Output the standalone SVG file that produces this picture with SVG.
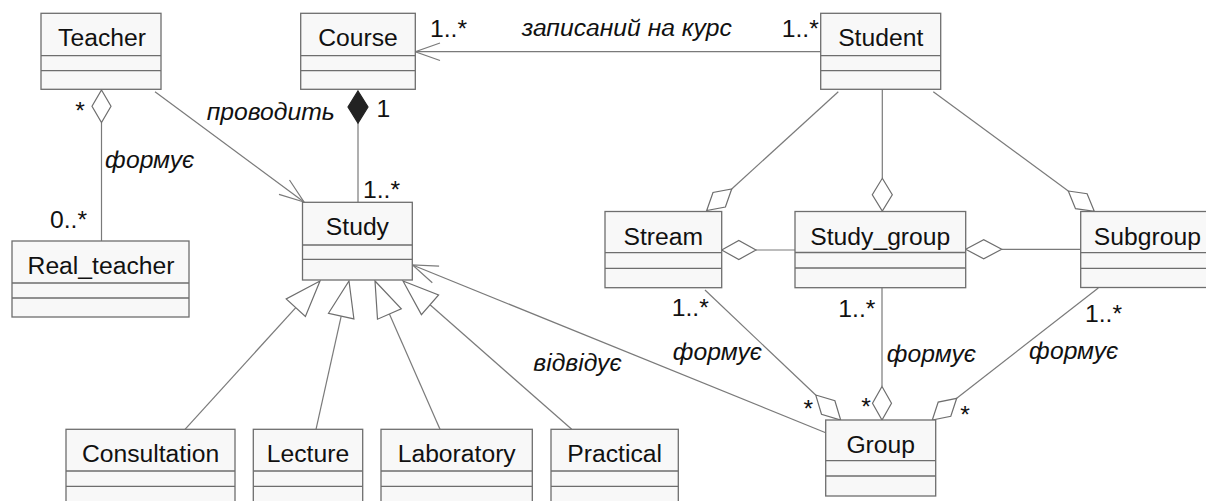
<svg xmlns="http://www.w3.org/2000/svg" width="1206" height="501" viewBox="0 0 1206 501">
  <style>
    .cls rect { fill: #f8f8f8; stroke: #6e6e6e; stroke-width: 1.3; }
    .cls line { stroke: #6e6e6e; stroke-width: 1.3; }
    .cls text { font-family: "Liberation Sans", Arial, sans-serif; font-size: 24.7px; fill: #111; text-anchor: middle; }
    .lbl { font-family: "Liberation Sans", Arial, sans-serif; font-size: 24.7px; fill: #111; }
    .it { font-style: italic; }
    .mid { text-anchor: middle; }
    #connectors line, #connectors polyline { stroke: #7a7a7a; stroke-width: 1.2; fill: none; }
    #connectors .agg { fill: #ffffff; stroke: #6e6e6e; stroke-width: 1.2; }
    #connectors .comp { fill: #222222; stroke: #222222; stroke-width: 1.2; }
    #connectors .gen { fill: #ffffff; stroke: #6e6e6e; stroke-width: 1.2; }
  </style>

  <!-- associations, aggregations, compositions, generalizations -->
  <g id="connectors">
    <!-- Teacher <>- Real_teacher -->
    <line x1="101.5" y1="122.5" x2="101.5" y2="241"/>
    <polygon class="agg" points="101.5,90 111,106.2 101.5,122.5 92,106.2"/>

    <!-- Teacher -> Study -->
    <line x1="155" y1="91.7" x2="304" y2="202"/>
    <polyline points="279,194.4 304,202 289.5,180"/>

    <!-- Course <#>- Study -->
    <line x1="358" y1="123" x2="358" y2="202.3"/>
    <polygon class="comp" points="358,91 368,107 358,123 348,107"/>

    <!-- Student -> Course -->
    <line x1="415.3" y1="51.7" x2="821" y2="51.7"/>
    <polyline points="440,43 415.3,51.7 440,60.5"/>

    <!-- Student -> Stream -->
    <line x1="838.3" y1="91.7" x2="731.7" y2="189"/>
    <polygon class="agg" points="731.7,189 725.4,207 706.7,210.5 713,192.5"/>

    <!-- Student -> Study_group -->
    <line x1="882.3" y1="89.3" x2="882.3" y2="178.3"/>
    <polygon class="agg" points="882.3,178.3 892.3,194.7 882.3,211 872.3,194.7"/>

    <!-- Student -> Subgroup -->
    <line x1="933.3" y1="91.7" x2="1068.3" y2="191"/>
    <polygon class="agg" points="1068.3,191 1087.1,193.7 1094.3,211.3 1075.5,208.7"/>

    <!-- Stream <>- Study_group -->
    <line x1="756" y1="250" x2="795" y2="250"/>
    <polygon class="agg" points="721.7,250 738.8,240.5 756,250 738.8,259.5"/>

    <!-- Study_group <>- Subgroup -->
    <line x1="1001.7" y1="249.3" x2="1080.7" y2="249.3"/>
    <polygon class="agg" points="965.7,249.3 983.7,239.8 1001.7,249.3 983.7,258.8"/>

    <!-- Stream -> Group -->
    <line x1="705" y1="290" x2="815.7" y2="395"/>
    <polygon class="agg" points="815.7,395 834.9,400.8 840.7,420 821.5,414.2"/>

    <!-- Study_group -> Group -->
    <line x1="882" y1="287.7" x2="882" y2="386.5"/>
    <polygon class="agg" points="882,386.5 891.5,403.2 882,420 872.5,403.2"/>

    <!-- Subgroup -> Group -->
    <line x1="1098.3" y1="288" x2="956.7" y2="398.3"/>
    <polygon class="agg" points="956.7,398.3 950.8,416.3 932.3,420 938.2,402.1"/>

    <!-- Group -> Study -->
    <line x1="825.7" y1="432.7" x2="412.5" y2="265"/>
    <polyline points="439.1,266.1 412.5,265 432.3,282.7"/>

    <!-- generalizations to Study -->
    <line x1="185" y1="429.3" x2="295.8" y2="307.6"/>
    <polygon class="gen" points="320,281 305.4,316.4 286.2,298.9"/>
    <line x1="316" y1="429.3" x2="341.2" y2="316.1"/>
    <polygon class="gen" points="349,281 353.9,318.9 328.5,313.3"/>
    <line x1="440" y1="429.3" x2="389.4" y2="314"/>
    <polygon class="gen" points="375,281 401.3,308.8 377.5,319.2"/>
    <line x1="571.7" y1="429.3" x2="430" y2="304.8"/>
    <polygon class="gen" points="403,281 438.6,295 421.4,314.6"/>
  </g>

  <!-- classes -->
  <g id="teacher" class="cls">
    <rect x="41" y="13.3" width="120" height="76"/>
    <line x1="41" y1="55.7" x2="161" y2="55.7"/>
    <line x1="41" y1="70.7" x2="161" y2="70.7"/>
    <text x="102" y="46">Teacher</text>
  </g>
  <g id="real_teacher" class="cls">
    <rect x="12" y="241" width="177" height="76"/>
    <line x1="12" y1="283" x2="189" y2="283"/>
    <line x1="12" y1="298" x2="189" y2="298"/>
    <text x="101" y="274">Real_teacher</text>
  </g>
  <g id="course" class="cls">
    <rect x="300.7" y="13.3" width="114.6" height="76"/>
    <line x1="300.7" y1="55.7" x2="415.3" y2="55.7"/>
    <line x1="300.7" y1="70.7" x2="415.3" y2="70.7"/>
    <text x="358" y="46">Course</text>
  </g>
  <g id="study" class="cls">
    <rect x="302.5" y="202.3" width="109.8" height="77.7"/>
    <line x1="302.5" y1="245" x2="412.3" y2="245"/>
    <line x1="302.5" y1="259.3" x2="412.3" y2="259.3"/>
    <text x="357.4" y="235">Study</text>
  </g>
  <g id="student" class="cls">
    <rect x="820.7" y="13.3" width="120" height="76"/>
    <line x1="820.7" y1="55.7" x2="940.7" y2="55.7"/>
    <line x1="820.7" y1="70.7" x2="940.7" y2="70.7"/>
    <text x="880.7" y="46">Student</text>
  </g>
  <g id="stream" class="cls">
    <rect x="605" y="211.5" width="116.7" height="76.2"/>
    <line x1="605" y1="252.7" x2="721.7" y2="252.7"/>
    <line x1="605" y1="268.3" x2="721.7" y2="268.3"/>
    <text x="663.3" y="244.5">Stream</text>
  </g>
  <g id="study_group" class="cls">
    <rect x="795" y="211.5" width="170.7" height="76.2"/>
    <line x1="795" y1="252.5" x2="965.7" y2="252.5"/>
    <line x1="795" y1="268" x2="965.7" y2="268"/>
    <text x="880.3" y="244.5">Study_group</text>
  </g>
  <g id="subgroup" class="cls">
    <rect x="1080.7" y="211.5" width="133.3" height="76"/>
    <line x1="1080.7" y1="252.7" x2="1214" y2="252.7"/>
    <line x1="1080.7" y1="268.3" x2="1214" y2="268.3"/>
    <text x="1147.4" y="244.5">Subgroup</text>
  </g>
  <g id="group" class="cls">
    <rect x="825.7" y="420" width="110" height="76"/>
    <line x1="825.7" y1="460.7" x2="935.7" y2="460.7"/>
    <line x1="825.7" y1="476" x2="935.7" y2="476"/>
    <text x="880.7" y="453">Group</text>
  </g>
  <g id="consultation" class="cls">
    <rect x="66" y="429.3" width="169" height="76"/>
    <line x1="66" y1="471" x2="235" y2="471"/>
    <line x1="66" y1="486.3" x2="235" y2="486.3"/>
    <text x="150.5" y="462">Consultation</text>
  </g>
  <g id="lecture" class="cls">
    <rect x="253.3" y="429.3" width="109.4" height="76"/>
    <line x1="253.3" y1="471" x2="362.7" y2="471"/>
    <line x1="253.3" y1="486.3" x2="362.7" y2="486.3"/>
    <text x="308" y="462">Lecture</text>
  </g>
  <g id="laboratory" class="cls">
    <rect x="381" y="429.3" width="151.3" height="76"/>
    <line x1="381" y1="471" x2="532.3" y2="471"/>
    <line x1="381" y1="486.3" x2="532.3" y2="486.3"/>
    <text x="456.7" y="462">Laboratory</text>
  </g>
  <g id="practical" class="cls">
    <rect x="551" y="429.3" width="127.3" height="76"/>
    <line x1="551" y1="471" x2="678.3" y2="471"/>
    <line x1="551" y1="486.3" x2="678.3" y2="486.3"/>
    <text x="614.7" y="462">Practical</text>
  </g>

  <!-- association names and multiplicities -->
  <g id="labels">
    <text class="lbl mid" x="80" y="119">*</text>
    <text class="lbl it" x="105" y="168">формує</text>
    <text class="lbl" x="50" y="228">0..*</text>
    <text class="lbl it" x="206.7" y="120">проводить</text>
    <text class="lbl" x="376.5" y="117">1</text>
    <text class="lbl" x="363" y="198.3">1..*</text>
    <text class="lbl" x="430" y="36.5">1..*</text>
    <text class="lbl it" x="521.7" y="35.5">записаний на курс</text>
    <text class="lbl" x="781.7" y="36.5">1..*</text>
    <text class="lbl" x="671.7" y="316">1..*</text>
    <text class="lbl it" x="672.7" y="359.5">формує</text>
    <text class="lbl it" x="533.3" y="370.7">відвідує</text>
    <text class="lbl" x="838.3" y="317.3">1..*</text>
    <text class="lbl it" x="886.7" y="361.7">формує</text>
    <text class="lbl" x="1085" y="321.7">1..*</text>
    <text class="lbl it" x="1029" y="359.3">формує</text>
    <text class="lbl mid" x="808.3" y="417">*</text>
    <text class="lbl mid" x="866" y="415.3">*</text>
    <text class="lbl mid" x="965" y="422.7">*</text>
  </g>
</svg>
